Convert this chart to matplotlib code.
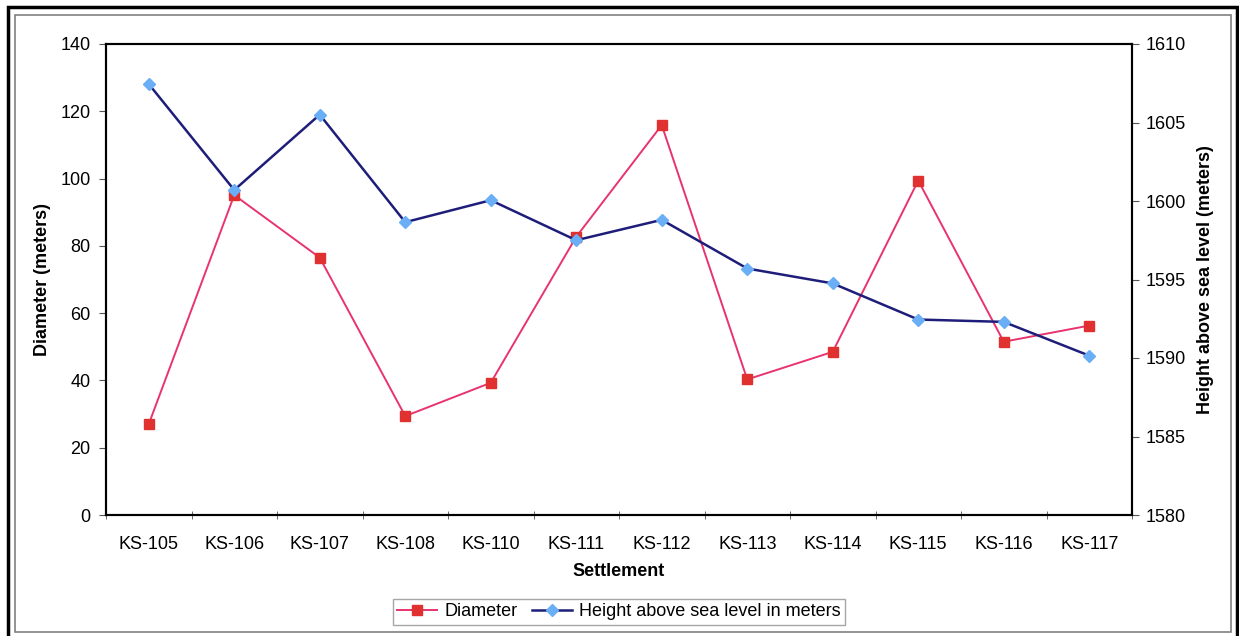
import matplotlib
matplotlib.use("Agg")
import matplotlib.pyplot as plt
from matplotlib.patches import Rectangle

plt.rcParams['font.family'] = ['Liberation Sans', 'DejaVu Sans']

settlements = ['KS-105', 'KS-106', 'KS-107', 'KS-108', 'KS-110', 'KS-111',
               'KS-112', 'KS-113', 'KS-114', 'KS-115', 'KS-116', 'KS-117']
diameter = [27.0, 95.1, 76.5, 29.4, 39.3, 82.7, 115.9, 40.3, 48.5, 99.4, 51.5, 56.3]
height = [1607.45, 1600.7, 1605.5, 1598.65, 1600.05, 1597.5, 1598.8,
          1595.7, 1594.75, 1592.45, 1592.3, 1590.15]

W, H = 1239, 636
fig = plt.figure(figsize=(W / 100, H / 100), dpi=100)

# outer frame (thick black) and inner chart-area border (gray)
fig.patches.append(Rectangle((8 / W, -0.01), (1237 - 8) / W, 1 - 7 / H + 0.01,
                             transform=fig.transFigure, fill=False,
                             edgecolor='black', linewidth=2.5))
fig.patches.append(Rectangle((15 / W, 1 - 632 / H), (1231 - 15) / W, (632 - 15) / H,
                             transform=fig.transFigure, fill=False,
                             edgecolor='#808080', linewidth=1.2))

ax = fig.add_axes([106 / W, 1 - 515 / H, (1132 - 106) / W, (515 - 44) / H])
ax2 = ax.twinx()

x = list(range(len(settlements)))
l1, = ax.plot(x, diameter, color='#E8336E', linewidth=1.4, marker='s',
              markersize=7, markerfacecolor='#E03030', markeredgecolor='#E03030',
              label='Diameter')
l2, = ax2.plot(x, height, color='#1E1E7A', linewidth=1.8, marker='D',
               markersize=6, markerfacecolor='#6AAEF5', markeredgecolor='#6AAEF5',
               label='Height above sea level in meters')

ax.set_xlim(-0.5, len(settlements) - 0.5)
ax.set_ylim(0, 140)
ax.set_yticks(range(0, 141, 20))
ax2.set_ylim(1580, 1610)
ax2.set_yticks(range(1580, 1611, 5))

ax.set_xticks(x)
ax.set_xticklabels(settlements)
ax.set_xticks([i - 0.5 for i in range(len(settlements) + 1)], minor=True)
ax.tick_params(axis='x', which='major', length=0, pad=15, labelsize=13)
ax.tick_params(axis='x', which='minor', length=6, direction='inout', color='#555555')
ax.tick_params(axis='y', length=5, color='#555555', labelsize=13, pad=6)
ax2.tick_params(axis='y', length=5, color='#555555', labelsize=13, pad=5)

for a in (ax, ax2):
    for s in a.spines.values():
        s.set_color('black')
        s.set_linewidth(1.5)

ax.set_xlabel('Settlement', fontsize=13, fontweight='bold', labelpad=7)
ax.set_ylabel('Diameter (meters)', fontsize=13, fontweight='bold', labelpad=7)
ax2.set_ylabel('Height above sea level (meters)', fontsize=13, fontweight='bold',
               labelpad=8)

leg = fig.legend([l1, l2], [l1.get_label(), l2.get_label()], loc='center',
                 bbox_to_anchor=(619 / W, 1 - 612 / H), ncol=2, fontsize=13,
                 frameon=True, fancybox=False, edgecolor='#909090',
                 handlelength=2.2, columnspacing=0.8, handletextpad=0.4,
                 borderpad=0.25)
leg.get_frame().set_linewidth(1.0)

fig.savefig('out.png', dpi=100)
